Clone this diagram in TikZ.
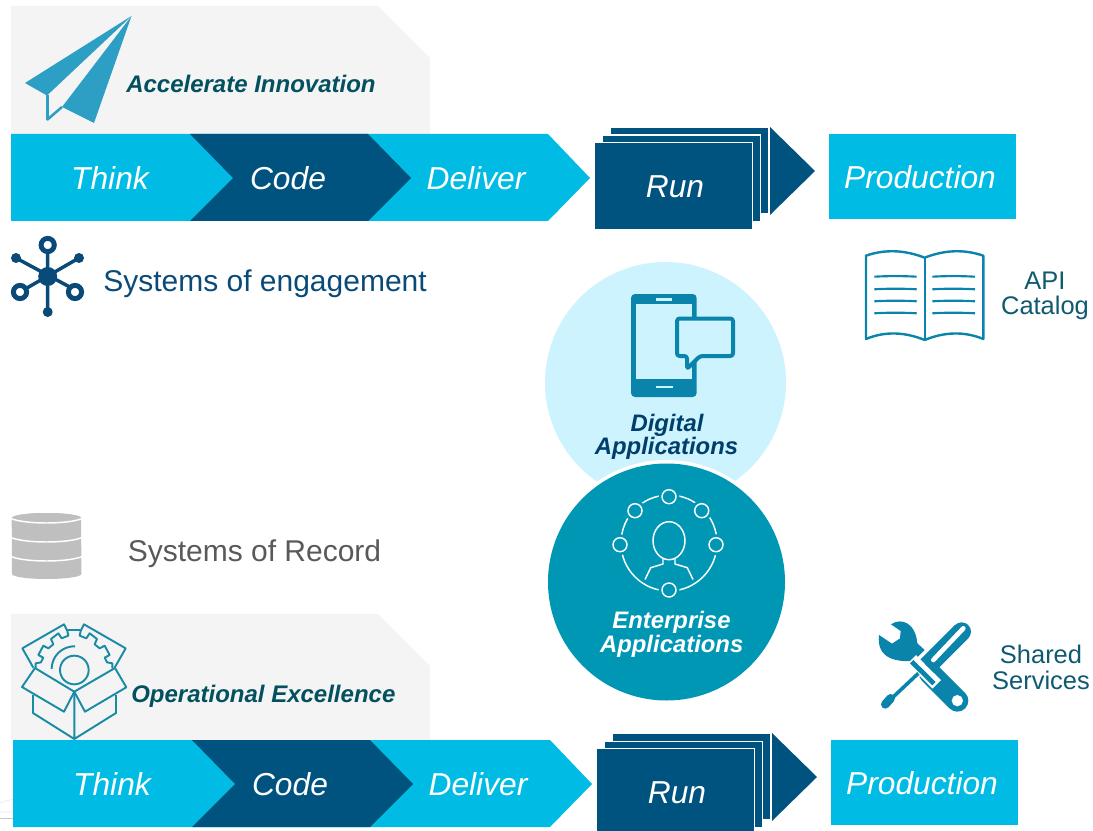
\documentclass[tikz,border=0pt]{standalone}
\usepackage{fontspec}
\setmainfont{Liberation Sans}
\definecolor{cy}{HTML}{00BCE4}
\definecolor{dk}{HTML}{00527F}
\definecolor{teal1}{HTML}{0097B5}
\definecolor{lite}{HTML}{CDF3FF}
\definecolor{panel}{HTML}{F4F4F4}
\definecolor{hd}{HTML}{03505F}
\definecolor{navy}{HTML}{0A4A78}
\definecolor{navy2}{HTML}{003F6B}
\definecolor{icon}{HTML}{0A84AB}
\definecolor{plane}{HTML}{2E9FC4}
\definecolor{boxic}{HTML}{1A8BA5}
\definecolor{gry}{HTML}{595959}
\definecolor{dbg}{HTML}{BFBFBF}
\definecolor{txt2}{HTML}{0F5A70}
\tikzset{
  px/.style={x=0.75pt,y=-0.75pt},
  zm/.style={x=0.25pt,y=-0.25pt},
  big/.style={anchor=base,inner sep=0pt,text=white,font=\fontsize{23.8}{26}\selectfont\itshape},
  head/.style={anchor=base west,inner sep=0pt,text=hd,font=\fontsize{18}{20}\selectfont\bfseries\itshape},
  circ/.style={anchor=base,inner sep=0pt,font=\fontsize{17.9}{20}\selectfont\bfseries\itshape},
  sys/.style={anchor=base west,inner sep=0pt,font=\fontsize{22.5}{26}\selectfont},
  side/.style={anchor=base,inner sep=0pt,text=txt2,font=\fontsize{19.1}{22}\selectfont},
}
\newcommand{\pipeline}[3]{%
\begin{scope}[shift={(#2,#3)}]
  \fill[cy] (11,134) -- (548,134) -- (590,178) -- (548,221) -- (11,221) -- cycle;
  \fill[dk] (190,134) -- (368,134) -- (411,178) -- (368,221) -- (190,221) -- (233,178) -- cycle;
  \fill[dk] (770,127) -- (815,171) -- (770,215) -- cycle;
  \fill[dk,draw=white,line width=0.9pt] (609.9,127.4) rectangle (768.3,213.6);
  \fill[dk,draw=white,line width=0.9pt] (602.1,135.1) rectangle (760.6,221.6);
  \fill[dk,draw=white,line width=0.9pt] (594.4,142.4) rectangle (752.6,229.6);
  \fill[cy] (829,134) rectangle (1016,219);
  \node[big] (#1think) at (110,189.6) {Think};
  \node[big] (#1code) at (288,189.6) {Code};
  \node[big] (#1deliver) at (476,189.6) {Deliver};
  \node[big] (#1run) at (675,197.6) {Run};
  \node[big] (#1prod) at (920,188.6) {Production};
\end{scope}}
\begin{document}
\begin{tikzpicture}[px]
\useasboundingbox (0,0) rectangle (1093,831);
\clip (0,0) rectangle (1093,831);
% faint traces at the lower left
\draw[black!22,line width=0.5pt] (0,818) -- (13,818);
\draw[black!10,line width=0.4pt] (0,803) -- (13,799) (0,812) -- (13,812);
% panels
\fill[panel] (11,6) -- (378,6) -- (430,58) -- (430,134) -- (11,134) -- cycle;
\fill[panel] (11,614) -- (378,614) -- (430,666) -- (430,740) -- (11,740) -- cycle;
\pipeline{a}{0}{0}
\pipeline{b}{2}{606}
% plane
\fill[plane] (131.5,16) -- (25,83) -- (47,95.5) -- cycle;
\fill[plane] (131.5,16) -- (94,123) -- (62,107) -- cycle;
\draw[plane,line width=1.9pt,line join=round] (47.5,95) -- (47.5,119.5) -- (62,107);
\node[head] (acc) at (126,92.8) {Accelerate Innovation};
% network
\draw[navy,line width=2.6pt] (16,258) -- (79,292) (79,258) -- (20,292) (47.7,245) -- (47.7,312);
\fill[navy] (47.7,276.5) circle (9.5);
\fill[navy] (16,258) circle (5) (79,258) circle (5) (47.7,312) circle (5);
\draw[navy,line width=3.7pt,fill=white] (47.7,245) circle (6.6) (20,292) circle (6.6) (75,292) circle (6.6);
\node[sys,text=navy] (soe) at (103,291.7) {Systems of engagement};
% database
\fill[dbg] (11.7,518) arc[start angle=180,end angle=360,x radius=34.7,y radius=5] -- (81.4,574) arc[start angle=0,end angle=180,x radius=34.7,y radius=5] -- cycle;
\fill[dbg] (46.5,518) ellipse (34.7 and 5);
\foreach \yy in {518.5,537.5,556.5}
  \draw[white,line width=1.1pt] (11,\yy) .. controls (25,\yy+6) and (68,\yy+6) .. (82,\yy);
\node[sys,text=gry] (sor) at (127.5,561.2) {Systems of Record};
% circles
\fill[lite] (665.5,382.5) circle (120.5);
\fill[white] (666.5,582) circle (122);
\fill[teal1] (666.5,582) circle (118.5);
% phone
\fill[icon,rounded corners=3pt] (631,294) rectangle (696.7,397);
\fill[lite] (636,304) rectangle (692,379);
\draw[lite,line width=1.6pt] (656,299.5) -- (672,299.5) (656,387) -- (673,387);
\draw[icon,fill=lite,line width=3pt,line join=round,rounded corners=2pt] (677,318.5) -- (733,318.5) -- (733,356) -- (700,356) -- (687,369) -- (687,356) -- (677,356) -- cycle;
\node[circ,text=navy2] (dig1) at (667,431) {Digital};
\node[circ,text=navy2] (dig2) at (666.5,454.8) {Applications};
% enterprise icon
\draw[white,line width=1.1pt] (669,543) circle (48);
\foreach \cx/\cy in {669/496.7,635/510.7,701.7/510.7,620/544.7,716/544.7,669/590}{
  \fill[teal1] (\cx,\cy) circle (10.5);
  \draw[white,line width=1.1pt] (\cx,\cy) circle (7);
}
\draw[white,line width=1.1pt] (669,540.7) ellipse (16 and 19);
\draw[white,line width=1.1pt,line join=round] (663,558) -- (663,564) -- (650.7,567.7) -- (645,579.5)
  (675,558) -- (675,564) -- (687.3,567.7) -- (693,579.5);
\node[circ,text=white] (ent1) at (671.5,628.2) {Enterprise};
\node[circ,text=white] (ent2) at (671.7,652.2) {Applications};
% book
\draw[icon,line width=1.8pt,line join=round] (924.7,257.7) .. controls (905,250) and (885,249) .. (866,255.7) -- (866,339) .. controls (885,331) and (905,332) .. (924.7,340)
 .. controls (944,332) and (964,331) .. (983.3,339) -- (983.3,255.7) .. controls (964,249) and (944,250) .. (924.7,257.7) -- cycle;
\draw[icon,line width=1.8pt] (924.7,257.7) -- (924.7,340);
\foreach \yy in {276.7,289.3,301.3,313.3}
  \draw[icon,line width=1.6pt] (874.3,\yy) .. controls (888,\yy-0.8) and (903,\yy-0.8) .. (916.7,\yy)
    (932.3,\yy) .. controls (946,\yy-0.8) and (961,\yy-0.8) .. (975,\yy);
\node[side] (api1) at (1045,289.3) {API};
\node[side] (api2) at (1045,315) {Catalog};
% box with gear
\begin{scope}[line width=1.45pt,line join=round]
\draw[boxic] (33,695) -- (33,713) -- (74.3,739) -- (116,713) -- (116,695) (74.3,691.7) -- (74.3,739);
\draw[boxic] (74.3,691.7) -- (35,668) -- (22,687) -- (64,711.7) -- cycle;
\draw[boxic] (74.3,691.7) -- (115,668) -- (126.3,687.3) -- (85,711.7) -- cycle;
\begin{scope}[shift={(15,615)},zm]
\draw[boxic] (55,158) -- (22,100) -- (147,28) -- (157,48) -- (160,62) -- (140,70) -- (130,55) -- (108,72) -- (115,88) -- (100,100) -- (85,92) -- (70,120) -- (85,128) -- (78,142) -- (62,145) -- (62,160);
\draw[boxic] (299,158) -- (332,100) -- (207,28) -- (197,48) -- (194,62) -- (214,70) -- (224,55) -- (246,72) -- (239,88) -- (254,100) -- (269,92) -- (284,120) -- (269,128) -- (276,142) -- (292,145) -- (292,160);
\draw[boxic] (157,46) -- (197,46);
\draw[boxic] (178,165) circle (43);
\draw[boxic] (110,162) arc[start angle=180,end angle=272,radius=68];
\end{scope}
\end{scope}
\node[head] (opx) at (131,702.3) {Operational Excellence};
% tools
\begin{scope}[shift={(870,615)},zm]
\fill[icon] (27,60) -- (66,86) -- (90,70) -- (92,48) -- (63,28) .. controls (95,6) and (137,25) .. (142,85) -- (164,105) -- (132,137) .. controls (85,142) and (18,134) .. (27,60) -- cycle;
\draw[icon,line width=16.5pt,line cap=round] (180,175) -- (262,257);
\fill[white] (262,257) circle (17);
\draw[white,line width=9pt] (125,133) -- (200,208);
\draw[icon,line width=2.7pt] (145,175) -- (62,253);
\draw[icon,line width=6.5pt,line cap=round] (62,250) -- (46,268);
\draw[icon,line width=3.6pt] (125,140) -- (192,206);
\draw[icon,line width=14.2pt] (171.5,153.5) -- (275,50);
\fill[icon] (275,50) circle (28);
\draw[white,line width=3.5pt,line cap=round] (280,40) -- (190,135);
\end{scope}
\node[side] (sh1) at (1041,663.8) {Shared};
\node[side] (sh2) at (1041,689.8) {Services};
\end{tikzpicture}
\end{document}
